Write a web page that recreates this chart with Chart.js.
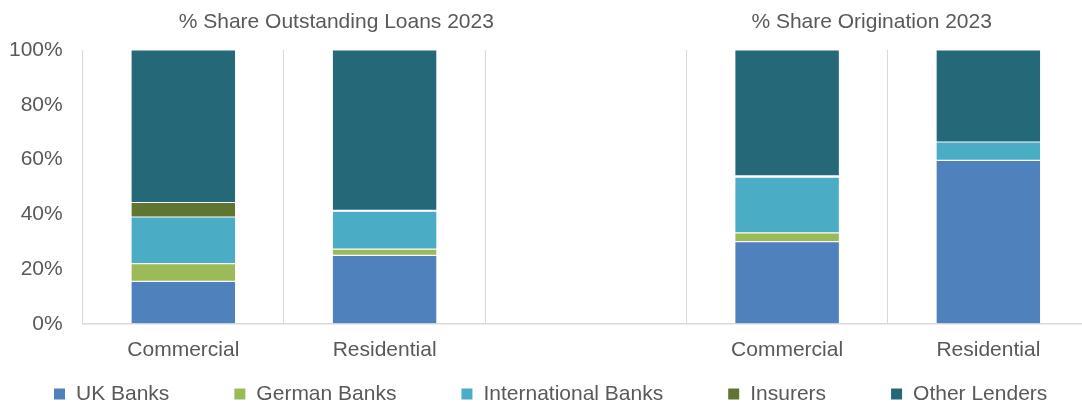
<!DOCTYPE html>
<html>
<head>
<meta charset="utf-8">
<script src="https://cdn.jsdelivr.net/npm/chart.js@4.4.0/dist/chart.umd.min.js"></script>
<style>
    html, body { margin: 0; padding: 0; background: #fff; overflow: hidden; }
    #wrap { width: 1090px; height: 405px; }
</style>
</head>
<body>
<div id="wrap"><canvas id="share-chart" width="1090" height="405"></canvas></div>
<script>
// lender shares (%) per loan type, blank slot splits the two groups
const categories   = ["Commercial", "Residential", "", "Commercial", "Residential"];
const ukBanks      = [15.5, 25.0, null, 30.0, 59.7];
const germanBanks  = [6.5, 2.3, null, 3.2, 0];
const intlBanks    = [17.0, 13.8, null, 20.4, 6.7];
const insurers     = [5.3, 0.3, null, 0.4, 0];
const otherLenders = [55.7, 58.6, null, 46.0, 33.6];
const yTicks       = [0, 20, 40, 60, 80, 100];

// group headings, placed in category units on the x scale
const groupTitles = [
    { text: "% Share Outstanding Loans 2023", at: 0.76 },
    { text: "% Share Origination 2023",       at: 3.42 }
];

const FONT = '"Liberation Sans", Arial, sans-serif';
const TEXT = "#595959";
const GRID = "#d9d9d9";

const series = [
    { label: "UK Banks",            data: ukBanks,      color: "#4f81bd" },
    { label: "German Banks",        data: germanBanks,  color: "#9bbb59" },
    { label: "International Banks", data: intlBanks,    color: "#4bacc6" },
    { label: "Insurers",            data: insurers,     color: "#617532" },
    { label: "Other Lenders",       data: otherLenders, color: "#256878" }
];

// headings above the two groups
const titlesPlugin = {
    id: "groupTitles",
    afterDraw(chart) {
        const { ctx, scales: { x } } = chart;
        ctx.save();
        ctx.font = "21px " + FONT;
        ctx.fillStyle = TEXT;
        ctx.textAlign = "center";
        ctx.textBaseline = "middle";
        groupTitles.forEach(t => {
            ctx.fillText(t.text, x.getPixelForValue(t.at), 22);
        });
        ctx.restore();
    }
};

// bottom legend with wide gaps between entries
const legendPlugin = {
    id: "wideLegend",
    afterDraw(chart) {
        const ctx = chart.ctx;
        const box = 11, gapText = 11, gapItem = 65, y = 394;
        ctx.save();
        ctx.font = "21px " + FONT;
        ctx.textBaseline = "middle";
        let x = 54;
        chart.data.datasets.forEach(ds => {
            ctx.fillStyle = ds.backgroundColor;
            ctx.fillRect(x, y - box / 2, box, box);
            x += box + gapText;
            ctx.fillStyle = TEXT;
            ctx.fillText(ds.label, x, y);
            x += ctx.measureText(ds.label).width + gapItem;
        });
        ctx.restore();
    }
};

new Chart(document.getElementById("share-chart"), {
    type: "bar",
    data: {
        labels: categories,
        datasets: series.map(s => ({
            label: s.label,
            data: s.data,
            backgroundColor: s.color,
            borderColor: "rgba(255,255,255,0.4)",
            borderWidth: 0.6,
            borderSkipped: false,
            categoryPercentage: 1,
            barPercentage: 0.52
        }))
    },
    options: {
        responsive: false,
        animation: false,
        layout: { padding: { top: 50, left: -11, right: 1, bottom: 28 } },
        plugins: {
            legend: { display: false },
            tooltip: { enabled: false }
        },
        scales: {
            x: {
                stacked: true,
                grid: { color: GRID, lineWidth: 1, drawTicks: false, offset: true },
                border: { color: GRID, width: 1.5 },
                ticks: { color: TEXT, font: { family: FONT, size: 21 }, padding: 14, maxRotation: 0 }
            },
            y: {
                stacked: true,
                min: 0,
                max: 100,
                afterBuildTicks: axis => { axis.ticks = yTicks.map(v => ({ value: v })); },
                grid: { display: false, drawTicks: false },
                border: { color: GRID, width: 1 },
                ticks: {
                    color: TEXT,
                    font: { family: FONT, size: 21 },
                    padding: 20,
                    callback: v => v + "%"
                }
            }
        }
    },
    plugins: [titlesPlugin, legendPlugin]
});
</script>
</body>
</html>
